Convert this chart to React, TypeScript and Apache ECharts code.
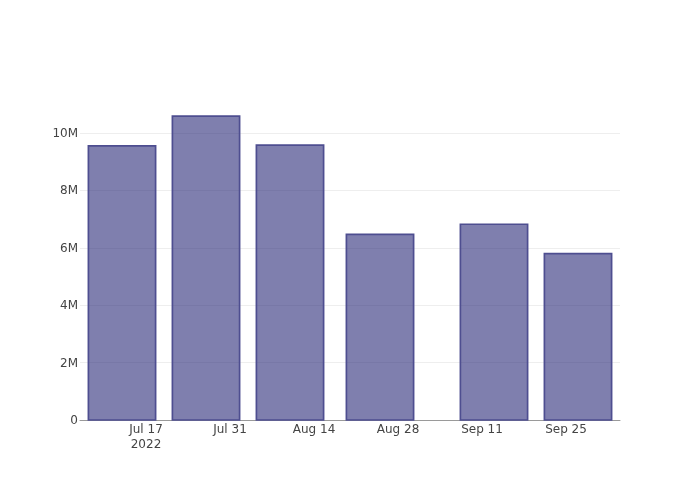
import React, { useEffect, useRef } from "react";
import * as echarts from "echarts";

const barDates = ["2022-07-13", "2022-07-27", "2022-08-10", "2022-08-25", "2022-09-13", "2022-09-27"];
const barValues = [9550000, 10590000, 9580000, 6470000, 6820000, 5800000];
const tickDates = ["2022-07-17", "2022-07-31", "2022-08-14", "2022-08-28", "2022-09-11", "2022-09-25"];
const xRange = ["2022-07-06", "2022-10-04"];
const yTicks = [0, 2000000, 4000000, 6000000, 8000000, 10000000];
const yMax = 11150000;
const MONTHS = ["Jan", "Feb", "Mar", "Apr", "May", "Jun", "Jul", "Aug", "Sep", "Oct", "Nov", "Dec"];

const DAY = 86400000;
const toDay = (s: string) => Date.parse(s + "T00:00:00Z") / DAY;

export default function App() {
  const ref = useRef<HTMLDivElement>(null);
  useEffect(() => {
    if (!ref.current) return;
    const chart = echarts.init(ref.current, null, { renderer: "svg" });
    const xs = barDates.map(toDay);
    let minGap = Infinity;
    for (let i = 1; i < xs.length; i++) minGap = Math.min(minGap, xs[i] - xs[i - 1]);
    const halfW = (minGap * 0.8) / 2;
    const ticks = tickDates.map(toDay);
    const font = "'DejaVu Sans', Verdana, sans-serif";
    const label = { color: "#444", fontSize: 12, fontFamily: font };
    chart.setOption({
      animation: false,
      grid: { left: 80, right: 80, top: 100, bottom: 80, containLabel: false },
      xAxis: [
        {
          type: "value",
          min: toDay(xRange[0]),
          max: toDay(xRange[1]),
          axisLine: { show: true, lineStyle: { color: "#9a9a9a", width: 1 } },
          axisTick: { show: false },
          splitLine: { show: false },
          axisLabel: {
            ...label,
            customValues: ticks,
            margin: 3,
            formatter: (v: number) => {
              const d = new Date(Math.round(v) * DAY);
              return MONTHS[d.getUTCMonth()] + " " + d.getUTCDate();
            },
          },
        },
        {
          type: "value",
          position: "bottom",
          offset: 15,
          min: toDay(xRange[0]),
          max: toDay(xRange[1]),
          axisLine: { show: false },
          axisTick: { show: false },
          splitLine: { show: false },
          axisLabel: {
            ...label,
            customValues: [ticks[0]],
            margin: 3,
            formatter: (v: number) => String(new Date(Math.round(v) * DAY).getUTCFullYear()),
          },
        },
      ],
      yAxis: {
        type: "value",
        min: 0,
        max: yMax,
        interval: 2000000,
        axisLine: { show: false },
        axisTick: { show: false },
        splitLine: { show: false },
        axisLabel: {
          ...label,
          customValues: yTicks,
          margin: 2,
          formatter: (v: number) => (v === 0 ? "0" : v / 1000000 + "M"),
        },
      },
      series: [
        {
          type: "line",
          data: [],
          z: 0,
          silent: true,
          markLine: {
            z: 0,
            silent: true,
            symbol: "none",
            label: { show: false },
            lineStyle: { color: "#eeeeee", width: 1, type: "solid" },
            data: yTicks.filter((v) => v > 0).map((v) => ({ yAxis: v })),
          },
        },
        {
          type: "custom",
          z: 3,
          data: xs.map((x, i) => [x, barValues[i]]),
          renderItem: (params: any, api: any) => {
            const x = api.value(0);
            const y = api.value(1);
            const p0 = api.coord([x - halfW, y]);
            const p1 = api.coord([x + halfW, 0]);
            return {
              type: "rect",
              shape: { x: p0[0], y: p0[1], width: p1[0] - p0[0], height: p1[1] - p0[1] },
              style: { fill: "rgba(42,42,120,0.6)", stroke: "#4e4e90", lineWidth: 1.7 },
            };
          },
        },
      ],
    });
    return () => chart.dispose();
  }, []);
  return <div ref={ref} style={{ position: "fixed", left: 0, top: 0, width: 700, height: 500 }} />;
}
